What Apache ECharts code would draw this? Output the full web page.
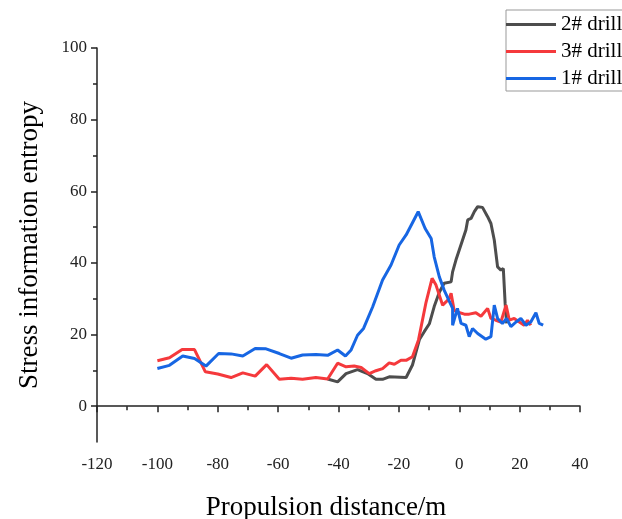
<!DOCTYPE html>
<html>
<head>
<meta charset="utf-8">
<script src="https://cdn.jsdelivr.net/npm/echarts@6/dist/echarts.min.js"></script>
<style>
  html, body { margin: 0; padding: 0; background: #fff; }
  #chart { width: 622px; height: 519px; }
</style>
</head>
<body>
<div id="chart"></div>
<script>
// propulsion distance (m) and stress information entropy per drill
const drill2X = [-43.6, -40.3, -37.5, -33.7, -30.4, -27.6, -25.4, -23.2, -17.6, -15.5, -13.2, -11.6, -9.9, -8.3, -6.6, -5, -2.7, -2.2, -1.1, 0, 1.1, 2.2, 2.8, 3.9, 5, 6.1, 7.7, 9.4, 10.5, 11.6, 12.7, 13.8, 14.6, 15.2, 15.7];
const drill2Y = [7.6, 6.8, 9.1, 10.2, 9.1, 7.5, 7.5, 8.2, 8, 11.5, 18.6, 20.8, 23, 27.8, 31.8, 34.3, 34.7, 37.5, 40.8, 43.6, 46.4, 49.2, 52, 52.4, 54.3, 55.7, 55.5, 52.9, 51, 46.4, 38.9, 38, 38.4, 28.7, 23.1];

const drill3X = [-100, -96, -91.8, -87.7, -84.1, -80, -75.6, -71.7, -67.6, -63.8, -59.6, -55.7, -51.9, -47.5, -43.6, -40.3, -37.5, -34.8, -32.5, -29.8, -27.6, -25.4, -23.2, -21.5, -19.3, -17.6, -15.5, -13.5, -11, -9, -7.7, -5.5, -4.4, -3.3, -2.7, -1.7, -0.6, 1.7, 3.3, 5.5, 7.2, 9.4, 10.5, 12.1, 13.8, 15.5, 16.6, 18.2, 19.9, 21.5, 22.6, 23.7];
const drill3Y = [12.7, 13.5, 15.8, 15.8, 9.6, 9, 8, 9.3, 8.4, 11.6, 7.5, 7.8, 7.5, 8, 7.6, 12, 11, 11.2, 10.8, 9.1, 9.9, 10.5, 12.1, 11.7, 12.8, 12.8, 13.8, 18.5, 29, 35.7, 33.8, 28.2, 29.1, 30.1, 31.5, 26.8, 26.3, 25.7, 25.7, 26.1, 25.1, 27.3, 24.5, 24, 23.5, 28.2, 24, 24.5, 23.5, 22.6, 24, 22.6];

const drill1X = [-100, -96, -91.6, -87.7, -83.9, -79.7, -75.6, -71.7, -67.6, -64, -59.6, -55.7, -51.9, -47.5, -43.6, -40.3, -37.7, -35.9, -33.7, -31.7, -28.7, -25.4, -22.6, -19.9, -17.6, -13.6, -11.3, -9.3, -8.3, -6.6, -5, -2.2, -2.2, -0.6, 0.6, 2.2, 3.3, 4.4, 6.1, 8.8, 10.5, 11.6, 12.7, 14.3, 15.7, 17.1, 18.8, 20.4, 22.1, 23.7, 25.4, 26.5, 27.8];
const drill1Y = [10.5, 11.4, 14, 13.3, 11.2, 14.7, 14.6, 14, 16.1, 16, 14.7, 13.4, 14.3, 14.4, 14.2, 15.7, 14, 15.6, 19.8, 21.7, 27.7, 35.2, 39.4, 45, 47.8, 54.3, 49.6, 46.8, 41.7, 36.1, 32.4, 27.3, 22.6, 27.3, 23.1, 22.6, 19.4, 21.7, 20.3, 18.7, 19.4, 28.2, 24.5, 23.1, 24.5, 22.2, 23.5, 24.5, 22.6, 23.5, 26.1, 23.1, 22.6];

const yLabelValues = [0, 20, 40, 60, 80, 100];
const yMinorValues = [10, 30, 50, 70, 90];

const zip = (xs, ys) => xs.map((x, i) => [x, ys[i]]);

const serif = 'Liberation Serif';
const axisColor = '#222';

const lineSeries = (name, color, xs, ys) => ({
  name: name,
  type: 'line',
  data: zip(xs, ys),
  showSymbol: false,
  symbol: 'none',
  lineStyle: { color: color, width: 3 },
  itemStyle: { color: color },
  animation: false
});

const myChart = echarts.init(document.getElementById('chart'), null, { renderer: 'canvas' });

myChart.setOption({
  animation: false,
  grid: {
    left: 97,
    right: 42,
    top: 48,
    bottom: 77,
    outerBoundsMode: 'none'
  },
  legend: {
    orient: 'vertical',
    left: 506,
    top: 10,
    padding: [4, 60, 2, 0],
    itemGap: 6,
    icon: 'rect',
    itemWidth: 50,
    itemHeight: 3,
    borderColor: '#999',
    borderWidth: 1,
    textStyle: { fontFamily: serif, fontSize: 21, color: '#000' },
    data: ['2# drill', '3# drill', '1# drill']
  },
  xAxis: {
    type: 'value',
    min: -120,
    max: 40,
    interval: 20,
    name: 'Propulsion distance/m',
    nameLocation: 'middle',
    nameGap: 52,
    nameTextStyle: { fontFamily: serif, fontSize: 27, color: '#000', padding: [0, 25, 0, 0] },
    axisLine: { show: true, lineStyle: { color: axisColor, width: 1.5 } },
    axisTick: { show: true, length: 6, lineStyle: { color: axisColor, width: 1.5 } },
    minorTick: { show: true, splitNumber: 2, length: 4, lineStyle: { color: axisColor, width: 1.5 } },
    axisLabel: { fontFamily: serif, fontSize: 17, color: '#222', margin: 14 },
    splitLine: { show: false }
  },
  yAxis: [{
    type: 'value',
    min: -10,
    max: 100,
    interval: 10,
    name: 'Stress information entropy',
    nameLocation: 'middle',
    nameGap: 54,
    nameTextStyle: { fontFamily: serif, fontSize: 27, color: '#000' },
    axisLine: { show: true, onZero: false, lineStyle: { color: axisColor, width: 1.5 } },
    axisTick: { show: true, length: 6, customValues: yLabelValues, lineStyle: { color: axisColor, width: 1.5 } },
    axisLabel: { fontFamily: serif, fontSize: 17, color: '#222', margin: 10, customValues: yLabelValues },
    splitLine: { show: false }
  }, {
    // second left axis only carries the short minor ticks
    type: 'value',
    position: 'left',
    offset: 0,
    min: -10,
    max: 100,
    interval: 10,
    axisLine: { show: false, onZero: false },
    axisTick: { show: true, length: 4, customValues: yMinorValues, lineStyle: { color: axisColor, width: 1.5 } },
    axisLabel: { show: false },
    splitLine: { show: false }
  }],
  series: [
    lineSeries('2# drill', '#4d4d4d', drill2X, drill2Y),
    lineSeries('3# drill', '#f5393c', drill3X, drill3Y),
    lineSeries('1# drill', '#1766e3', drill1X, drill1Y)
  ]
});
</script>
</body>
</html>
